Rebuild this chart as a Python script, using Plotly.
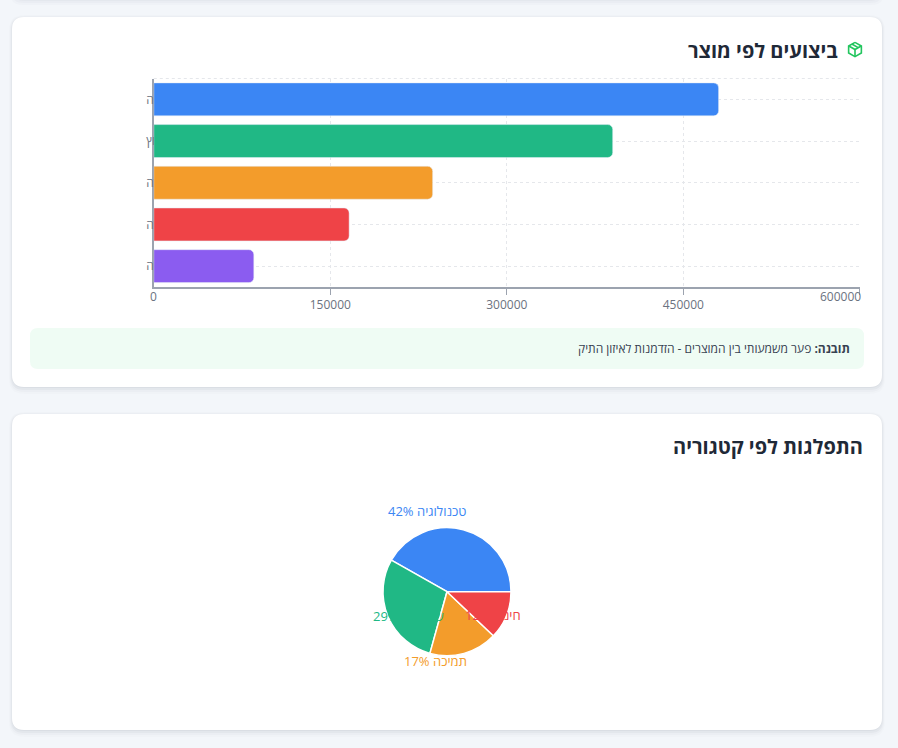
#%%
# dashboard cards: product performance bars + category pie (hebrew, rtl)
import math
import plotly.graph_objects as go

W, H = 898, 748

# product bars
products = ['תוכנה', 'ייעוץ', 'תמיכה', 'הדרכה', 'תחזוקה']
sales = [480000, 390000, 237000, 166000, 85000]
bar_colors = ['#3b86f4', '#20b885', '#f39c2b', '#ef4347', '#8b5cf0']
x_ticks = [0, 150000, 300000, 450000, 600000]

# category pie
categories = ['טכנולוגיה', 'שירותים', 'תמיכה', 'חינוך']
shares = [41.8, 28.9, 17.2, 12.1]
pie_colors = ['#3b86f4', '#20b885', '#f39c2b', '#ef4347']

title_bars = 'ביצועים לפי מוצר'
title_pie = 'התפלגות לפי קטגוריה'
insight = '<b>תובנה:</b> פער משמעותי בין המוצרים - הזדמנות לאיזון התיק'

FONT = 'Open Sans, Liberation Sans, DejaVu Sans, sans-serif'


#%%
def px_x(x):
    return x / W


def px_y(y):
    return 1 - y / H


def rounded_path(x0, y0, x1, y1, r):
    pts = [
        ('M', [(x0 + r, y0)]), ('L', [(x1 - r, y0)]), ('Q', [(x1, y0), (x1, y0 + r)]),
        ('L', [(x1, y1 - r)]), ('Q', [(x1, y1), (x1 - r, y1)]),
        ('L', [(x0 + r, y1)]), ('Q', [(x0, y1), (x0, y1 - r)]),
        ('L', [(x0, y0 + r)]), ('Q', [(x0, y0), (x0 + r, y0)]),
    ]
    s = ''
    for cmd, coords in pts:
        s += cmd + ' ' + ' '.join('{:.5f},{:.5f}'.format(px_x(a), px_y(b)) for a, b in coords) + ' '
    return s + 'Z'


shapes = []

# shadow of a card above the view
for i, a in enumerate([0.025, 0.02, 0.015]):
    shapes.append(dict(type='path', xref='paper', yref='paper', layer='below',
                       path=rounded_path(12 - i, -60, 882 + i, 1 + 2 * i, 12),
                       fillcolor='rgba(15,23,42,{})'.format(a), line=dict(width=0)))

cards = [(12, 17, 882, 387), (12, 414, 882, 730)]
for x0, y0, x1, y1 in cards:
    for i, a in enumerate([0.04, 0.03, 0.02, 0.012]):
        shapes.append(dict(type='path', xref='paper', yref='paper', layer='below',
                           path=rounded_path(x0 - i, y0 - i + 1, x1 + i, y1 + 2 * i + 1, 12 + i),
                           fillcolor='rgba(15,23,42,{})'.format(a), line=dict(width=0)))
    shapes.append(dict(type='path', xref='paper', yref='paper', layer='below',
                       path=rounded_path(x0, y0, x1, y1, 12),
                       fillcolor='white', line=dict(width=0)))

# insight box
shapes.append(dict(type='path', xref='paper', yref='paper', layer='below',
                   path=rounded_path(30, 328, 864, 369, 8),
                   fillcolor='#effcf4', line=dict(width=0)))

# package icon (lucide style) next to the first title
ix, iy, sc = 846.5, 41, 17 / 24.0
icon_lines = [
    [(12, 2), (21, 7), (21, 17), (12, 22), (3, 17), (3, 7), (12, 2)],
    [(3.3, 7), (12, 12), (20.7, 7)],
    [(12, 12), (12, 22)],
    [(7.5, 4.27), (16.5, 9.42)],
]
for line in icon_lines:
    p = 'M ' + ' L '.join('{:.5f},{:.5f}'.format(px_x(ix + a * sc), px_y(iy + b * sc)) for a, b in line)
    shapes.append(dict(type='path', xref='paper', yref='paper', path=p,
                       line=dict(color='#22c55e', width=1.6)))

# dashed top border of the bar grid
shapes.append(dict(type='line', xref='x domain', yref='y domain', x0=0, x1=1, y0=1, y1=1,
                   line=dict(color='#e5e7eb', width=1, dash='3px,3px'), layer='below'))


#%%
fig = go.Figure()

fig.add_trace(go.Bar(
    x=sales, y=products, orientation='h',
    marker=dict(color=bar_colors, cornerradius=5),
    hoverinfo='x+y', showlegend=False,
))

# first slice starts at 3 o'clock and runs counterclockwise
# (plotly puts the first slice clockwise of `rotation`, so shift by its angle)
total = sum(shares)
PIE_CX, PIE_CY, PIE_R = 447, 591.7, 64
fig.add_trace(go.Pie(
    labels=categories, values=shares, sort=False,
    direction='counterclockwise', rotation=90 - 360 * shares[0] / total,
    marker=dict(colors=pie_colors, line=dict(color='white', width=1.5)),
    textinfo='none', hoverinfo='label+percent', showlegend=False,
    domain=dict(x=[px_x(PIE_CX - PIE_R), px_x(PIE_CX + PIE_R)],
                y=[px_y(PIE_CY + PIE_R), px_y(PIE_CY - PIE_R)]),
))

tick_font = dict(size=12, color='#6b7280', family=FONT)
annotations = [
    dict(text='<b>' + title_bars + '</b>', x=px_x(840), y=px_y(50), xref='paper', yref='paper',
         xanchor='right', yanchor='middle', showarrow=False,
         font=dict(size=20, color='#1f2937', family=FONT)),
    dict(text='<b>' + title_pie + '</b>', x=px_x(865), y=px_y(446), xref='paper', yref='paper',
         xanchor='right', yanchor='middle', showarrow=False,
         font=dict(size=20, color='#1f2937', family=FONT)),
    dict(text=insight, x=px_x(852), y=px_y(348), xref='paper', yref='paper',
         xanchor='right', yanchor='middle', showarrow=False,
         font=dict(size=12, color='#374151', family=FONT)),
    # plotly hides the first x label when the y labels sit inside, so put it back
    dict(text=str(x_ticks[0]), x=x_ticks[0], y=px_y(297), xref='x', yref='paper',
         xanchor='center', yanchor='middle', showarrow=False, font=tick_font),
    # last label is kept inside the card, right aligned to its tick
    dict(text=str(x_ticks[-1]), x=x_ticks[-1], y=px_y(297), xref='x', yref='paper',
         xanchor='right', yanchor='middle', showarrow=False, xshift=3, font=tick_font),
]

# pie labels, placed the way the original library put them (rtl text anchored at the wrong side)
LABEL_CX, LABEL_CY, LABEL_RX, LABEL_RY = 447, 586, 82, 78
cum = 0
for name, v, col in zip(categories, shares, pie_colors):
    mid = 2 * math.pi * (cum + v / 2) / total
    cum += v
    lx = LABEL_CX + LABEL_RX * math.cos(mid)
    ly = LABEL_CY - LABEL_RY * math.sin(mid)
    pct = round(v / total * 100)
    annotations.append(dict(
        text='{}% {}'.format(pct, name), x=px_x(lx), y=px_y(ly), xref='paper', yref='paper',
        xanchor='right' if math.cos(mid) >= 0 else 'left', yanchor='middle', showarrow=False,
        font=dict(size=13, color=col, family=FONT)))

fig.update_layout(
    width=W, height=H,
    margin=dict(l=0, r=0, t=0, b=0, pad=0, autoexpand=False),
    paper_bgcolor='#f3f6fa', plot_bgcolor='rgba(0,0,0,0)',
    font=dict(family=FONT),
    bargap=0.21,
    shapes=shapes, annotations=annotations,
    xaxis=dict(domain=[px_x(153.8), px_x(859.8)], range=[0, 600000],
               tickvals=x_ticks, ticktext=[str(t) for t in x_ticks[:-1]] + [''],
               ticks='outside', ticklen=6,
               tickcolor='#9ca3af', showline=True, linecolor='#9ca3af', linewidth=1.5,
               showgrid=True, gridcolor='#e5e7eb', griddash='3px,3px', zeroline=False,
               automargin=False, tickfont=tick_font, fixedrange=True),
    yaxis=dict(domain=[px_y(287), px_y(78.5)], type='category', autorange='reversed',
               showline=True, linecolor='#9ca3af', linewidth=1.5,
               showgrid=True, gridcolor='#e5e7eb', griddash='3px,3px', zeroline=False,
               ticks='', ticklabelposition='inside', ticklabelstandoff=-8,
               layer='below traces', automargin=False,
               tickfont=tick_font, fixedrange=True),
)

# drop the default body margin so the figure fills the window exactly
fig.write_html("out.html", config={'displayModeBar': False},
               post_script="document.body.style.margin='0';document.body.style.overflow='hidden';")
